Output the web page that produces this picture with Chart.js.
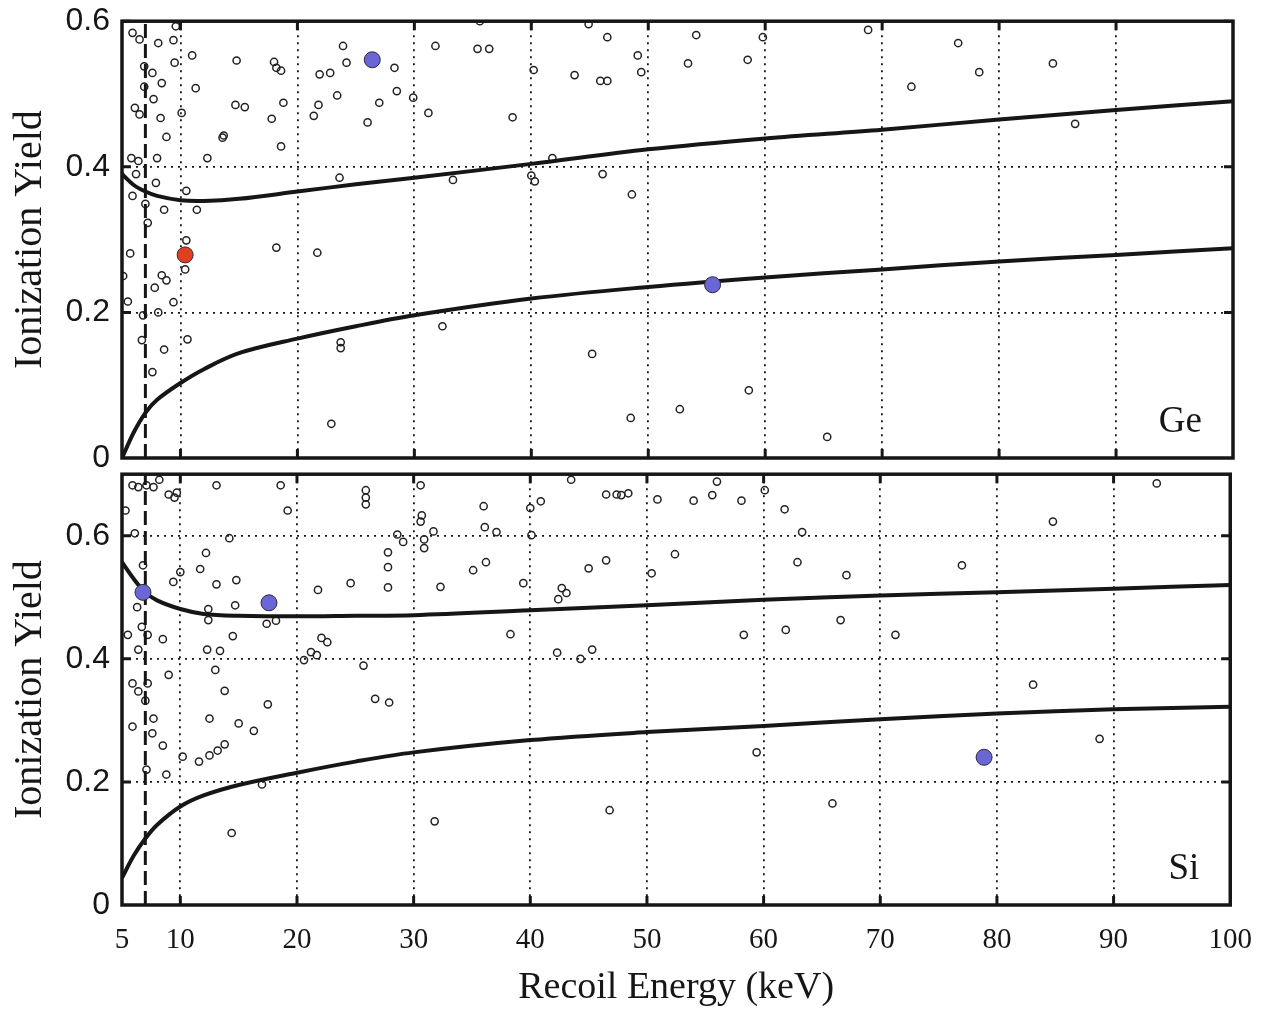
<!DOCTYPE html>
<html>
<head>
<meta charset="utf-8">
<script src="https://cdn.jsdelivr.net/npm/chart.js@4.4.1/dist/chart.umd.min.js"></script>
<style>
  html, body { margin: 0; padding: 0; background: #fff; }
  #wrap { position: relative; width: 1270px; height: 1015px; overflow: hidden; }
  canvas { position: absolute; left: 0; }
  #ge { top: -10px; }
  #si { top: 443px; }
</style>
</head>
<body>
<div id="wrap">
  <canvas id="ge" width="1270" height="500"></canvas>
  <canvas id="si" width="1270" height="572"></canvas>
</div>
<script>
// axis ticks
const xTicks = [5, 10, 20, 30, 40, 50, 60, 70, 80, 90, 100];
const yTicks = [0, 0.2, 0.4, 0.6];
const thresholdE = 7;

// acceptance band curves
const curveE  = [5, 6, 7, 8, 10, 12, 15, 20, 25, 30, 40, 50, 60, 70, 80, 90, 100];
const geUpper = [0.39, 0.375, 0.366, 0.36, 0.354, 0.353, 0.356, 0.366, 0.376, 0.385, 0.404, 0.424, 0.439, 0.451, 0.465, 0.478, 0.49];
const geLower = [0.0, 0.035, 0.062, 0.08, 0.103, 0.122, 0.144, 0.164, 0.181, 0.196, 0.219, 0.235, 0.248, 0.259, 0.27, 0.279, 0.288];
const siUpper = [0.557, 0.53, 0.508, 0.495, 0.481, 0.473, 0.47, 0.469, 0.47, 0.471, 0.479, 0.487, 0.496, 0.503, 0.508, 0.514, 0.52];
const siLower = [0.044, 0.08, 0.108, 0.13, 0.16, 0.178, 0.195, 0.215, 0.233, 0.248, 0.268, 0.281, 0.291, 0.302, 0.311, 0.318, 0.322];

// Ge events
const geE = [5.9, 6.5, 8.1, 9.4, 9.6, 11.0, 9.5, 6.9, 7.6, 8.4, 11.3, 6.9, 7.7, 6.1, 6.5, 10.1, 8.3, 8.8,
  14.8, 18.0, 18.2, 18.6, 21.9, 22.8, 23.9, 24.2, 28.3, 28.5, 29.9, 27.0, 26.0, 23.4, 21.8, 21.4, 18.8, 17.8,
  18.6, 14.7, 15.5, 13.6, 13.7, 12.3, 8.0, 5.8, 6.4, 6.2, 7.9, 5.9, 10.5, 7.0, 8.6, 11.4, 7.2, 23.6, 10.5,
  10.4, 5.7, 8.4, 8.8, 7.8, 5.1, 5.5, 9.4, 8.1, 6.8, 18.2, 21.7, 6.7, 10.6, 8.6, 23.7, 23.7, 7.6, 22.9,
  31.8, 35.4, 36.4, 35.6, 31.2, 38.4, 40.2, 43.7, 45.9, 46.5, 46.5, 44.9, 49.1, 49.4, 54.1, 53.4, 58.5, 59.8,
  33.3, 40.0, 40.3, 41.8, 46.1, 48.6, 32.4, 45.2, 58.6, 52.7, 48.5, 65.3, 68.8, 76.5, 78.3, 72.5, 84.6, 86.5];
const geY = [0.584, 0.575, 0.570, 0.574, 0.593, 0.553, 0.543, 0.538, 0.529, 0.515, 0.508, 0.510, 0.493, 0.481, 0.472, 0.474, 0.467, 0.441,
  0.546, 0.544, 0.536, 0.532, 0.527, 0.529, 0.566, 0.543, 0.536, 0.504, 0.495, 0.488, 0.461, 0.498, 0.485, 0.470, 0.488, 0.466,
  0.428, 0.485, 0.482, 0.440, 0.443, 0.412, 0.412, 0.412, 0.408, 0.390, 0.378, 0.360, 0.367, 0.349, 0.341, 0.341, 0.323, 0.385, 0.299,
  0.259, 0.281, 0.251, 0.244, 0.234, 0.250, 0.215, 0.214, 0.200, 0.196, 0.289, 0.282, 0.162, 0.163, 0.149, 0.159, 0.151, 0.118, 0.047,
  0.566, 0.562, 0.562, 0.600, 0.474, 0.468, 0.533, 0.526, 0.518, 0.518, 0.578, 0.596, 0.553, 0.530, 0.581, 0.542, 0.547, 0.578,
  0.382, 0.388, 0.380, 0.412, 0.390, 0.362, 0.181, 0.143, 0.093, 0.067, 0.055, 0.029, 0.588, 0.570, 0.530, 0.510, 0.542, 0.459];
const geBlueE = [26.4, 55.5];
const geBlueY = [0.547, 0.238];
const geRedE = [10.4];
const geRedY = [0.279];

// Si events
const siE = [5.3, 5.9, 6.4, 7.1, 7.7, 8.2, 9.0, 9.5, 9.7, 13.1, 18.6, 19.2, 25.9, 25.9, 25.9, 6.1, 14.2, 28.6, 29.1,
  27.8, 27.8, 27.8, 12.2, 11.7, 10.0, 9.4, 6.8, 13.1, 14.8, 21.8, 24.6, 6.3, 12.4, 12.4, 14.7, 17.4, 18.2,
  6.7, 5.5, 7.2, 8.5, 14.5, 22.1, 22.6, 6.4, 12.3, 13.4, 21.2, 21.7, 20.6, 13.0, 25.7, 9.0, 5.9, 6.4, 7.2,
  7.0, 13.8, 17.5, 26.7, 27.9, 7.7, 12.5, 5.9, 15.0, 16.3, 7.6, 8.5, 10.2, 11.6, 12.5, 13.2, 13.8, 7.1, 8.8,
  17.0, 14.4, 30.6, 43.5, 46.5, 47.4, 47.8, 48.4, 50.9, 54.0, 55.6, 56.0, 58.1, 60.1, 61.8, 63.3, 62.9,
  36.0, 40.0, 40.9, 30.7, 30.6, 30.9, 30.9, 31.7, 36.1, 37.1, 40.1, 35.1, 36.2, 32.3, 39.4, 42.7, 42.4, 43.1,
  45.0, 46.5, 50.4, 52.4, 38.3, 42.3, 44.3, 45.3, 58.3, 61.9, 59.4, 31.8, 46.8, 93.7, 84.8, 77.0, 67.1, 66.6,
  71.3, 83.1, 88.8, 65.9];
const siY = [0.641, 0.682, 0.679, 0.682, 0.679, 0.691, 0.667, 0.662, 0.670, 0.682, 0.682, 0.641, 0.674, 0.662, 0.651, 0.604, 0.596, 0.602, 0.590,
  0.573, 0.549, 0.516, 0.572, 0.546, 0.541, 0.525, 0.552, 0.521, 0.528, 0.512, 0.523, 0.484, 0.481, 0.463, 0.487, 0.457, 0.462,
  0.452, 0.439, 0.439, 0.432, 0.437, 0.434, 0.427, 0.415, 0.415, 0.413, 0.411, 0.406, 0.398, 0.382, 0.389, 0.374, 0.360, 0.347, 0.360,
  0.332, 0.348, 0.326, 0.335, 0.329, 0.303, 0.303, 0.290, 0.295, 0.283, 0.279, 0.259, 0.241, 0.233, 0.243, 0.251, 0.261, 0.220, 0.212,
  0.196, 0.117, 0.682, 0.691, 0.667, 0.667, 0.666, 0.669, 0.659, 0.657, 0.666, 0.688, 0.657, 0.674, 0.643, 0.606, 0.557,
  0.648, 0.645, 0.656, 0.633, 0.623, 0.594, 0.580, 0.607, 0.614, 0.606, 0.601, 0.544, 0.557, 0.517, 0.523, 0.515, 0.497, 0.507,
  0.547, 0.560, 0.539, 0.570, 0.440, 0.410, 0.400, 0.415, 0.439, 0.447, 0.248, 0.136, 0.154, 0.685, 0.623, 0.552, 0.536, 0.463,
  0.439, 0.358, 0.270, 0.165];
const siBlueE = [6.8, 17.6, 78.9];
const siBlueY = [0.508, 0.491, 0.240];

const pts = (xs, ys) => xs.map((x, i) => ({ x: x, y: ys[i] }));
const INK = '#161616';

// frame, inward tick marks and the panel label
const framePlugin = {
  id: 'frame',
  afterDatasetsDraw(chart, args, opts) {
    const { ctx, chartArea: a, scales: { x, y } } = chart;
    ctx.save();
    ctx.strokeStyle = INK;
    ctx.lineWidth = 3.5;
    ctx.strokeRect(a.left, a.top, a.width, a.height);
    ctx.lineWidth = 3;
    ctx.beginPath();
    xTicks.slice(1, -1).forEach(v => {
      const px = x.getPixelForValue(v);
      ctx.moveTo(px, a.top); ctx.lineTo(px, a.top + 9);
      ctx.moveTo(px, a.bottom); ctx.lineTo(px, a.bottom - 9);
    });
    yTicks.slice(1).forEach(v => {
      const py = y.getPixelForValue(v);
      ctx.moveTo(a.left, py); ctx.lineTo(a.left + 9, py);
      ctx.moveTo(a.right, py); ctx.lineTo(a.right - 9, py);
    });
    ctx.stroke();
    ctx.fillStyle = INK;
    ctx.font = '37px "Liberation Serif"';
    ctx.textAlign = 'right';
    ctx.textBaseline = 'alphabetic';
    ctx.fillText(opts.label, a.right - 31, a.bottom - 26);
    ctx.restore();
  }
};

function makePanel(id, cfg) {
  const datasets = [];
  cfg.big.forEach(b => datasets.push({
    type: 'scatter', data: b.data, pointRadius: 8, pointHoverRadius: 8,
    backgroundColor: b.color, borderColor: '#2a2a3a', borderWidth: 1
  }));
  cfg.curves.forEach(c => datasets.push({
    type: 'line', data: pts(curveE, c), borderColor: INK, borderWidth: 4,
    pointRadius: 0, tension: 0.35, fill: false
  }));
  datasets.push({
    type: 'line', data: [{ x: thresholdE, y: 0 }, { x: thresholdE, y: cfg.yMax }],
    borderColor: INK, borderWidth: 3, borderDash: [14, 6], pointRadius: 0, fill: false
  });
  datasets.push({
    type: 'scatter', data: cfg.open, pointRadius: 3.6, pointHoverRadius: 3.6,
    backgroundColor: 'rgba(255,255,255,0)', borderColor: '#222', borderWidth: 1.5
  });

  return new Chart(document.getElementById(id), {
    type: 'scatter',
    data: { datasets: datasets },
    plugins: [framePlugin],
    options: {
      responsive: false,
      animation: false,
      layout: { padding: { top: cfg.padTop, right: 37, left: 0, bottom: 0 } },
      plugins: {
        legend: { display: false },
        tooltip: { enabled: false },
        frame: { label: cfg.label }
      },
      scales: {
        x: {
          type: 'linear', min: 5, max: 100,
          afterBuildTicks: s => { s.ticks = xTicks.map(v => ({ value: v })); },
          afterFit: s => { s.height = cfg.xHeight; },
          grid: { color: INK, lineWidth: 1.8, drawTicks: false },
          border: { display: false, dash: [2, 5] },
          ticks: {
            display: cfg.showX, autoSkip: false, maxRotation: 0, padding: 18,
            color: INK, font: { family: 'Liberation Serif', size: 29 }
          },
          title: {
            display: cfg.showX, text: 'Recoil Energy (keV)', color: INK,
            font: { family: 'Liberation Serif', size: 38 }, padding: { top: 0, bottom: 4 }
          }
        },
        y: {
          min: 0, max: cfg.yMax,
          afterBuildTicks: s => { s.ticks = yTicks.map(v => ({ value: v })); },
          afterFit: s => { s.width = 122; },
          grid: { color: INK, lineWidth: 1.8, drawTicks: false },
          border: { display: false, dash: [2, 5] },
          ticks: {
            padding: 12, color: INK,
            font: { family: 'Liberation Sans', size: 32 },
            callback: v => (v === 0 ? '0' : v.toFixed(1))
          },
          title: {
            display: true, text: 'Ionization Yield', color: INK,
            font: { family: 'Liberation Serif', size: 40, lineHeight: 1 },
            padding: { top: 10, bottom: 0 }
          }
        }
      }
    }
  });
}

makePanel('ge', {
  label: 'Ge', yMax: 0.6, padTop: 30, xHeight: 32, showX: false,
  open: pts(geE, geY),
  curves: [geUpper, geLower],
  big: [
    { data: pts(geBlueE, geBlueY), color: '#6a66d6' },
    { data: pts(geRedE, geRedY), color: '#e0401f' }
  ]
});

makePanel('si', {
  label: 'Si', yMax: 0.7, padTop: 25, xHeight: 110, showX: true,
  open: pts(siE, siY),
  curves: [siUpper, siLower],
  big: [{ data: pts(siBlueE, siBlueY), color: '#6a66d6' }]
});
</script>
</body>
</html>
